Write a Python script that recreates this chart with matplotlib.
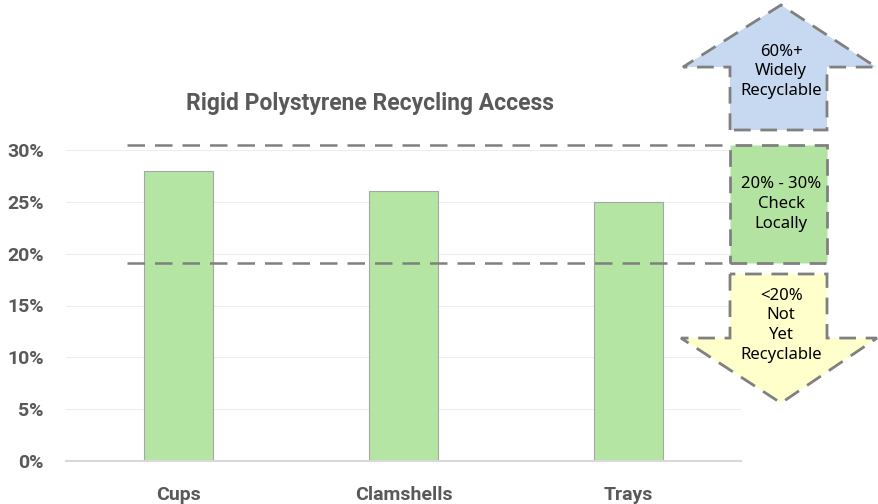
import matplotlib.pyplot as plt
from matplotlib.patches import Polygon, Rectangle
from matplotlib.transforms import blended_transform_factory
from matplotlib.ticker import PercentFormatter

categories = ["Cups", "Clamshells", "Trays"]
access = [0.28, 0.26, 0.25]
yticks = [0, 0.05, 0.10, 0.15, 0.20, 0.25, 0.30]
band_low, band_high = 0.191, 0.305
title = "Rigid Polystyrene Recycling Access"
top_label = "60%+\nWidely\nRecyclable"
mid_label = "20% - 30%\nCheck\nLocally"
low_label = "<20%\nNot\nYet\nRecyclable"

grey = '#595959'
edge = '#808080'
bar_green = '#B4E5A2'
blue = '#C6D9F0'
yellow = '#FFFFCC'

fig = plt.figure(figsize=(8.79, 5.04), dpi=100)
ax = fig.add_axes([66/879, 43/504, 675/879, 311/504])

x = range(len(categories))
ax.bar(x, access, width=0.31, color=bar_green, edgecolor='#A6A6A6', linewidth=0.8, zorder=2)
ax.set_xlim(-0.5, 2.5)
ax.set_ylim(0, 0.30)
ax.set_yticks(yticks)
ax.yaxis.set_major_formatter(PercentFormatter(1.0, decimals=0))
ax.set_xticks(list(x))
ax.set_xticklabels(categories)
ax.grid(axis='y', color='#EDEDED', linewidth=0.8, zorder=0)
for s in ['top', 'right', 'left']:
    ax.spines[s].set_visible(False)
ax.spines['bottom'].set_color('#D9D9D9')
ax.spines['bottom'].set_linewidth(1.5)
ax.tick_params(length=0)
ax.tick_params(axis='y', pad=16)
ax.tick_params(axis='x', pad=18)
for lab in ax.get_xticklabels() + ax.get_yticklabels():
    lab.set_fontfamily('Roboto')
    lab.set_fontweight('bold')
    lab.set_fontsize(14)
    lab.set_color(grey)

# threshold lines
for yv in (band_high, band_low):
    ax.axhline(yv, xmin=0.09, xmax=0.984, color=edge, linewidth=1.8,
               linestyle=(0, (7, 4)), clip_on=False, zorder=3)

tr = blended_transform_factory(ax.transAxes, ax.transData)
sx0, sx1 = 0.9837, 1.1274
cx = 1.0593
dash = dict(edgecolor=edge, linewidth=2, linestyle=(0, (6, 3.5)), transform=tr, clip_on=False, zorder=4)

# up arrow
up = Polygon([(sx0, 0.3193), (sx0, 0.380), (0.914, 0.380), (cx, 0.4399),
              (1.2, 0.380), (sx1, 0.380), (sx1, 0.3193)], closed=True, facecolor=blue, **dash)
ax.add_patch(up)
# middle box
ax.add_patch(Rectangle((sx0, band_low), sx1 - sx0, band_high - band_low, facecolor='#B3E3A0', **dash))
# down arrow
down = Polygon([(sx0, 0.1804), (sx0, 0.1186), (0.911, 0.1186), (cx, 0.0559),
                (1.2015, 0.1186), (sx1, 0.1186), (sx1, 0.1804)], closed=True, facecolor=yellow, **dash)
ax.add_patch(down)

txt = dict(transform=tr, ha='center', va='center', fontsize=12, family='Noto Sans',
           color='black', linespacing=1.3, zorder=5, clip_on=False)
ax.text(cx, 0.376, top_label, **txt)
ax.text(cx, 0.248, mid_label, **txt)
ax.text(cx, 0.131, low_label, **txt)

fig.text(0.421, 0.794, title, ha='center', va='center', fontsize=16.5,
         fontweight='bold', family='Roboto', color=grey)

fig.savefig('out.png', dpi=100, facecolor='white')
